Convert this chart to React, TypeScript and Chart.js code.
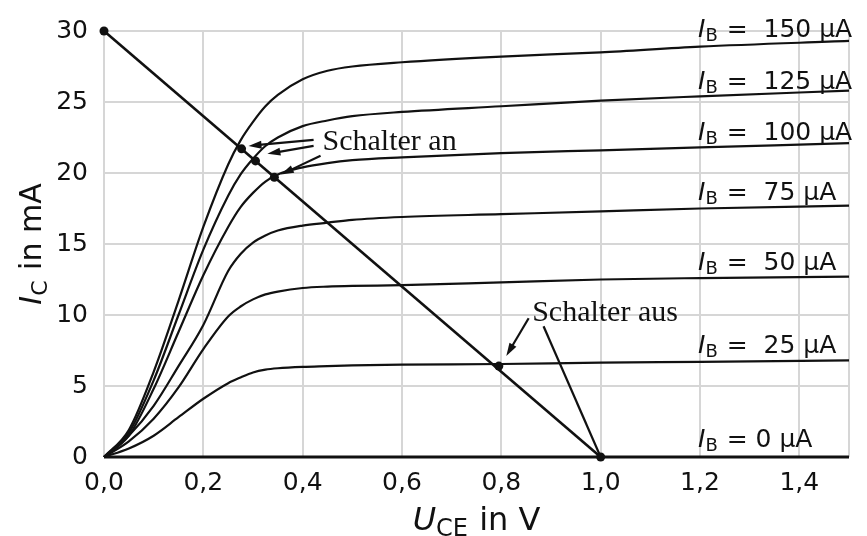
import React, { useEffect, useRef } from 'react';
import { Chart, registerables } from 'chart.js';

Chart.register(...registerables);

// ---------- data ----------
const uceValues = [0, 0.05, 0.1, 0.15, 0.2, 0.25, 0.275, 0.3, 0.325, 0.35, 0.4, 0.45, 0.5, 0.6, 0.8, 1.0, 1.2, 1.5];
const ic150 = [0, 1.9, 6.0, 11.0, 16.2, 20.6, 22.3, 23.6, 24.7, 25.5, 26.6, 27.2, 27.5, 27.8, 28.2, 28.5, 28.9, 29.3];
const ic125 = [0, 1.7, 5.4, 10.0, 14.6, 18.4, 19.9, 21.0, 21.9, 22.5, 23.3, 23.7, 24.0, 24.3, 24.7, 25.1, 25.4, 25.8];
const ic100 = [0, 1.5, 4.8, 8.8, 12.8, 16.2, 17.6, 18.6, 19.4, 19.9, 20.4, 20.7, 20.9, 21.1, 21.4, 21.6, 21.8, 22.1];
const ic75 = [0, 1.5, 3.6, 6.4, 9.3, 13.1, 14.3, 15.1, 15.6, 15.95, 16.3, 16.5, 16.7, 16.9, 17.1, 17.3, 17.5, 17.7];
const ic50 = [0, 1.1, 2.7, 4.9, 7.6, 9.9, 10.6, 11.1, 11.45, 11.65, 11.9, 12.0, 12.05, 12.1, 12.3, 12.5, 12.6, 12.7];
const ic25 = [0, 0.6, 1.5, 2.8, 4.1, 5.2, 5.6, 5.95, 6.15, 6.25, 6.35, 6.4, 6.45, 6.5, 6.55, 6.65, 6.7, 6.8];
const ic0 = [0, 0, 0, 0, 0, 0, 0, 0, 0, 0, 0, 0, 0, 0, 0, 0, 0, 0];

const curveSeries = [ic150, ic125, ic100, ic75, ic50, ic25, ic0];
const baseCurrentTexts = ['150 µA', '125 µA', '100 µA', '75 µA', '50 µA', '25 µA', '0 µA'];
const labelSeparators = ['=  ', '=  ', '=  ', '=  ', '=  ', '=  ', '= '];
const labelX = 1.196;
const labelBaselines = [29.6, 25.9, 22.3, 18.1, 13.2, 7.3, 0.7];

const loadLineX = [0, 1.0];
const loadLineY = [30, 0];

const dotX = [0, 0.277, 0.305, 0.343, 0.795, 1.0];
const dotY = [30, 21.7, 20.85, 19.7, 6.4, 0];

const xTickValues = [0, 0.2, 0.4, 0.6, 0.8, 1.0, 1.2, 1.4, 1.5];
const xTickMin = 0;
const xTickMax = 1.5;
const yTickMin = 0;
const yTickMax = 30;
const yTickStep = 5;

const annotationTexts = ['Schalter an', 'Schalter aus'];
const annotationX = [0.44, 0.862];
const annotationY = [21.6, 9.56];

// arrows: from -> to (data units)
const arrowFromX = [0.422, 0.422, 0.436, 0.855, 0.885];
const arrowFromY = [22.33, 21.91, 21.21, 9.77, 9.21];
const arrowToX = [0.291, 0.329, 0.356, 0.81, 1.0];
const arrowToY = [21.91, 21.35, 19.89, 7.12, 0];
const arrowHeads = [true, true, true, true, false];

const xTitleMain = 'U';
const xTitleSub = 'CE';
const xTitleRest = ' in V';
const yTitleMain = 'I';
const yTitleSub = 'C';
const yTitleRest = ' in mA';

const SANS = '"DejaVu Sans", sans-serif';
const SERIF = '"Liberation Serif", "Times New Roman", serif';
const INK = '#111';

function drawSubText(
  ctx: CanvasRenderingContext2D,
  x: number,
  y: number,
  main: string,
  sub: string,
  rest: string,
  fs: number,
  subFs: number,
  subDrop: number,
  measureOnly = false
): number {
  let cx = x;
  ctx.font = `italic ${fs}px ${SANS}`;
  if (!measureOnly) ctx.fillText(main, cx, y);
  cx += ctx.measureText(main).width;
  ctx.font = `${subFs}px ${SANS}`;
  if (!measureOnly) ctx.fillText(sub, cx, y + subDrop);
  cx += ctx.measureText(sub).width + 1;
  ctx.font = `${fs}px ${SANS}`;
  if (!measureOnly) ctx.fillText(rest, cx, y);
  cx += ctx.measureText(rest).width;
  return cx - x;
}

const annotationPlugin = {
  id: 'annotationPlugin',
  afterDatasetsDraw(chart: any) {
    const ctx: CanvasRenderingContext2D = chart.ctx;
    const xs = chart.scales.x;
    const ys = chart.scales.y;
    const area = chart.chartArea;
    ctx.save();
    ctx.fillStyle = INK;
    ctx.strokeStyle = INK;
    ctx.textBaseline = 'alphabetic';
    ctx.textAlign = 'left';

    // curve labels
    for (let i = 0; i < baseCurrentTexts.length; i++) {
      const px = xs.getPixelForValue(labelX);
      const py = ys.getPixelForValue(labelBaselines[i]);
      drawSubText(ctx, px, py, 'I', 'B', ' ' + labelSeparators[i] + baseCurrentTexts[i], 25, 18, 4);
    }

    // arrows
    for (let i = 0; i < arrowFromX.length; i++) {
      const x1 = xs.getPixelForValue(arrowFromX[i]);
      const y1 = ys.getPixelForValue(arrowFromY[i]);
      const x2 = xs.getPixelForValue(arrowToX[i]);
      const y2 = ys.getPixelForValue(arrowToY[i]);
      const ang = Math.atan2(y2 - y1, x2 - x1);
      const headLen = 13;
      const headW = 4;
      ctx.lineWidth = 2.2;
      ctx.beginPath();
      ctx.moveTo(x1, y1);
      if (arrowHeads[i]) {
        ctx.lineTo(x2 - Math.cos(ang) * headLen * 0.8, y2 - Math.sin(ang) * headLen * 0.8);
      } else {
        ctx.lineTo(x2, y2);
      }
      ctx.stroke();
      if (arrowHeads[i]) {
        ctx.beginPath();
        ctx.moveTo(x2, y2);
        ctx.lineTo(
          x2 - Math.cos(ang) * headLen + Math.sin(ang) * headW,
          y2 - Math.sin(ang) * headLen - Math.cos(ang) * headW
        );
        ctx.lineTo(
          x2 - Math.cos(ang) * headLen - Math.sin(ang) * headW,
          y2 - Math.sin(ang) * headLen + Math.cos(ang) * headW
        );
        ctx.closePath();
        ctx.fill();
      }
    }

    // annotation texts
    ctx.font = `30px ${SERIF}`;
    for (let i = 0; i < annotationTexts.length; i++) {
      ctx.fillText(annotationTexts[i], xs.getPixelForValue(annotationX[i]), ys.getPixelForValue(annotationY[i]));
    }

    // axis titles
    const xMid = (area.left + area.right) / 2;
    const w = drawSubText(ctx, 0, 0, xTitleMain, xTitleSub, xTitleRest, 32, 24, 6, true);
    drawSubText(ctx, xMid - w / 2, area.bottom + 73, xTitleMain, xTitleSub, xTitleRest, 32, 24, 6);

    const yMid = (area.top + area.bottom) / 2;
    ctx.save();
    ctx.translate(area.left - 63, yMid);
    ctx.rotate(-Math.PI / 2);
    const wy = drawSubText(ctx, 0, 0, yTitleMain, yTitleSub, yTitleRest, 30, 22, 6, true);
    drawSubText(ctx, -wy / 2, 0, yTitleMain, yTitleSub, yTitleRest, 30, 22, 6);
    ctx.restore();

    ctx.restore();
  },
};

export default function App() {
  const canvasRef = useRef<HTMLCanvasElement | null>(null);

  useEffect(() => {
    document.body.style.margin = '0';
    document.body.style.overflow = 'hidden';
    const canvas = canvasRef.current;
    if (!canvas) return;

    const curveDatasets = curveSeries.map((series, idx) => ({
      label: 'IB ' + baseCurrentTexts[idx],
      data: uceValues.map((x, i) => ({ x, y: series[i] })),
      showLine: true,
      borderColor: INK,
      borderWidth: idx === curveSeries.length - 1 ? 3 : 2.2,
      pointRadius: 0,
      cubicInterpolationMode: 'monotone' as const,
      fill: false,
      clip: false as any,
    }));

    const chart = new Chart(canvas, {
      type: 'scatter',
      data: {
        datasets: [
          {
            label: 'Punkte',
            data: dotX.map((x, i) => ({ x, y: dotY[i] })),
            showLine: false,
            pointRadius: 4.5,
            pointBackgroundColor: INK,
            pointBorderColor: INK,
            pointBorderWidth: 0,
            clip: false as any,
          },
          {
            label: 'Arbeitsgerade',
            data: loadLineX.map((x, i) => ({ x, y: loadLineY[i] })),
            showLine: true,
            borderColor: INK,
            borderWidth: 2.6,
            pointRadius: 0,
            clip: false as any,
          },
          ...curveDatasets,
        ],
      },
      options: {
        animation: false,
        responsive: false,
        maintainAspectRatio: false,
        devicePixelRatio: 1,
        layout: { padding: { top: 12, right: 18, bottom: 0, left: 0 } },
        plugins: {
          legend: { display: false },
          tooltip: { enabled: false },
          title: { display: false },
        },
        scales: {
          x: {
            type: 'linear',
            min: xTickMin,
            max: xTickMax,
            border: { display: false },
            grid: { color: '#d6d6d6', lineWidth: 2, drawTicks: false },
            afterBuildTicks: (scale: any) => {
              scale.ticks = xTickValues.map((v) => ({ value: v }));
            },
            ticks: {
              padding: 11,
              color: '#111',
              font: { family: SANS, size: 25 },
              maxRotation: 0,
              autoSkip: false,
              callback: (v: any) => {
                const n = Number(v);
                if (Math.abs(n - xTickMax) < 1e-6) return '';
                return n.toFixed(1).replace('.', ',');
              },
            },
            afterFit: (scale: any) => {
              scale.height = 79;
            },
          },
          y: {
            type: 'linear',
            min: yTickMin,
            max: yTickMax,
            border: { display: false },
            grid: { color: '#d6d6d6', lineWidth: 2, drawTicks: false },
            ticks: {
              stepSize: yTickStep,
              padding: 16,
              color: '#111',
              font: { family: SANS, size: 25 },
            },
            afterFit: (scale: any) => {
              scale.width = 104;
            },
          },
        },
      },
      plugins: [annotationPlugin],
    });

    return () => {
      chart.destroy();
    };
  }, []);

  return (
    <div style={{ width: 867, height: 536, background: '#fff' }}>
      <canvas ref={canvasRef} width={867} height={536} style={{ display: 'block' }} />
    </div>
  );
}
